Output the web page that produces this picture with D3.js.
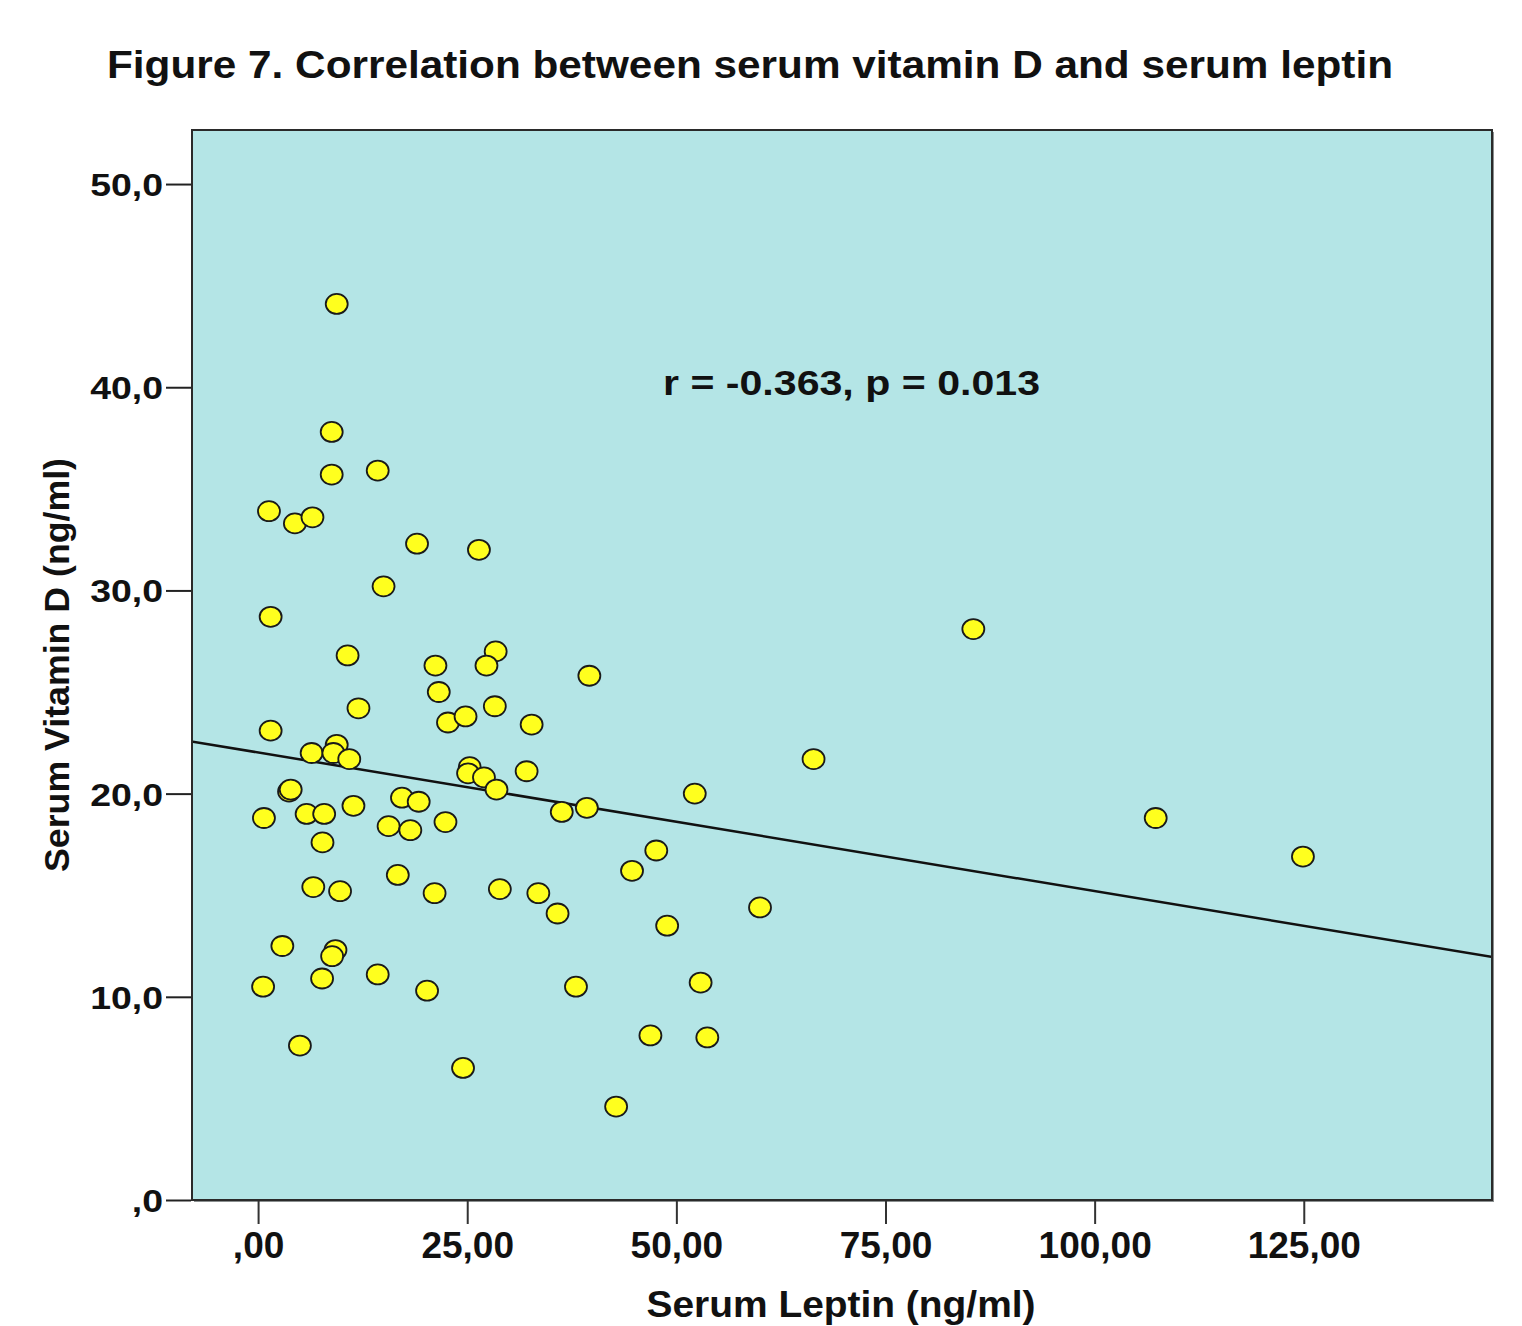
<!DOCTYPE html>
<html>
<head>
<meta charset="utf-8">
<script src="https://cdn.jsdelivr.net/npm/d3@7"></script>
<style>
  html, body { margin: 0; padding: 0; background: #ffffff; }
  svg { display: block; }
  text { font-family: "Liberation Sans", Arial, sans-serif; font-weight: bold; fill: #111; }
</style>
</head>
<body>
<svg id="chart" width="1522" height="1326"></svg>
<script>
// ---- Data ----
const leptin = [
  9.4, 8.8, 8.8, 14.3, 1.3, 4.4, 6.5, 19.0, 26.4, 15.0, 1.5,
  10.7, 21.2, 28.4, 27.3, 39.6, 21.6, 12.0, 28.3, 22.7, 24.8, 32.7, 1.5,
  6.4, 9.4, 9.0, 10.9, 25.3, 25.1, 27.0, 28.5, 32.1, 36.3, 39.3,
  3.7, 3.9, 0.7, 5.8, 7.9, 11.4, 17.2, 19.2, 15.6, 18.2, 22.4, 7.7,
  16.7, 6.6, 9.8, 21.1, 28.9, 33.5, 35.8,
  2.9, 9.25, 8.85, 0.6, 7.65, 14.3, 20.2, 38.0, 5.0, 24.5, 46.9, 42.8, 48.9,
  85.5, 66.4, 52.2, 47.6, 44.7, 60.0, 52.9, 53.7, 107.3, 124.9
];
const vitaminD = [
  44.1, 37.8, 35.7, 35.9, 33.9, 33.3, 33.6, 32.3, 32.0, 30.2, 28.7,
  26.8, 26.3, 27.0, 26.3, 25.8, 25.0, 24.2, 24.3, 23.5, 23.8, 23.4, 23.1,
  22.0, 22.4, 22.0, 21.7, 21.3, 21.0, 20.8, 20.2, 21.1, 19.1, 19.3,
  20.1, 20.2, 18.8, 19.0, 19.0, 19.4, 19.8, 19.6, 18.4, 18.2, 18.6, 17.6,
  16.0, 15.4, 15.2, 15.1, 15.3, 15.1, 14.1,
  12.5, 12.3, 12.0, 10.5, 10.9, 11.1, 10.3, 10.5, 7.6, 6.5, 8.1, 4.6, 13.5,
  28.1, 21.7, 20.0, 17.2, 16.2, 14.4, 10.7, 8.0, 18.8, 16.9
];
const xTickValues = [0, 25, 50, 75, 100, 125];
const xTickLabels = [",00", "25,00", "50,00", "75,00", "100,00", "125,00"];
const yTickValues = [0, 10, 20, 30, 40, 50];
const yTickLabels = [",0", "10,0", "20,0", "30,0", "40,0", "50,0"];
const titleText = "Figure 7. Correlation between serum vitamin D and serum leptin";
const xTitle = "Serum Leptin (ng/ml)";
const yTitle = "Serum Vitamin D (ng/ml)";
const annotation = "r = -0.363, p = 0.013";

// ---- Layout ----
const svg = d3.select("#chart");
const plot = { left: 192, right: 1492, top: 130, bottom: 1200 };

const x = d3.scaleLinear().domain([-7.9, 147.5]).range([plot.left, plot.right]);
const y = d3.scaleLinear().domain([0, 52.66]).range([plot.bottom, plot.top]);

// Title
svg.append("text")
  .attr("x", 107).attr("y", 78)
  .attr("font-size", 39)
  .attr("textLength", 1286).attr("lengthAdjust", "spacingAndGlyphs")
  .text(titleText);

// Plot shadow + background
svg.append("rect")
  .attr("x", plot.left + 2).attr("y", plot.top + 2)
  .attr("width", plot.right - plot.left).attr("height", plot.bottom - plot.top)
  .attr("fill", "#8a8f8f");
svg.append("rect")
  .attr("x", plot.left).attr("y", plot.top)
  .attr("width", plot.right - plot.left).attr("height", plot.bottom - plot.top)
  .attr("fill", "#b4e5e6")
  .attr("stroke", "#2a2a2a").attr("stroke-width", 2);

// Clip for line
svg.append("clipPath").attr("id", "clip")
  .append("rect")
  .attr("x", plot.left + 1).attr("y", plot.top + 1)
  .attr("width", plot.right - plot.left - 2).attr("height", plot.bottom - plot.top - 2);

// Regression line (least squares on the data)
const n = leptin.length;
const mx = d3.mean(leptin), my = d3.mean(vitaminD);
let sxy = 0, sxx = 0;
for (let i = 0; i < n; i++) { sxy += (leptin[i] - mx) * (vitaminD[i] - my); sxx += (leptin[i] - mx) ** 2; }
const slope = sxy / sxx, intercept = my - slope * mx;
const [x0, x1] = x.domain();
svg.append("line")
  .attr("clip-path", "url(#clip)")
  .attr("x1", x(x0)).attr("y1", y(intercept + slope * x0))
  .attr("x2", x(x1)).attr("y2", y(intercept + slope * x1))
  .attr("stroke", "#111").attr("stroke-width", 2.5);

// Points
svg.append("g").selectAll("ellipse")
  .data(leptin.map((d, i) => ({ lx: d, vd: vitaminD[i] })))
  .join("ellipse")
  .attr("cx", d => x(d.lx)).attr("cy", d => y(d.vd))
  .attr("rx", 11).attr("ry", 10)
  .attr("fill", "#ffff1e")
  .attr("stroke", "#1a1a1a").attr("stroke-width", 1.8);

// Annotation
svg.append("text")
  .attr("x", 663).attr("y", 395)
  .attr("font-size", 35)
  .attr("textLength", 377).attr("lengthAdjust", "spacingAndGlyphs")
  .text(annotation);

// X axis
const xAxis = d3.axisBottom(x)
  .tickValues(xTickValues)
  .tickFormat((d, i) => xTickLabels[i])
  .tickSize(23).tickSizeOuter(0).tickPadding(8);
const gx = svg.append("g").attr("transform", `translate(0,${plot.bottom + 1})`).call(xAxis);
gx.select(".domain").remove();
gx.selectAll(".tick line").attr("stroke", "#333").attr("stroke-width", 2);
gx.selectAll(".tick text")
  .attr("font-size", 37).attr("fill", "#111")
  .attr("font-family", "Liberation Sans, Arial, sans-serif").attr("font-weight", "bold");

// Y axis
const yAxis = d3.axisLeft(y)
  .tickValues(yTickValues)
  .tickFormat((d, i) => yTickLabels[i])
  .tickSize(25).tickSizeOuter(0).tickPadding(3);
const gy = svg.append("g").attr("transform", `translate(${plot.left - 1},0)`).call(yAxis);
gy.select(".domain").remove();
gy.selectAll(".tick line").attr("stroke", "#222").attr("stroke-width", 2);
gy.selectAll(".tick text")
  .attr("font-size", 32).attr("fill", "#111")
  .attr("font-family", "Liberation Sans, Arial, sans-serif").attr("font-weight", "bold")
  .attr("dy", "0.36em")
  .each(function() {
    const t = d3.select(this);
    const w = this.getComputedTextLength();
    t.attr("textLength", w * 1.17).attr("lengthAdjust", "spacingAndGlyphs");
  });

// Axis titles
svg.append("text")
  .attr("x", 841).attr("y", 1317)
  .attr("text-anchor", "middle")
  .attr("font-size", 37)
  .attr("textLength", 389).attr("lengthAdjust", "spacingAndGlyphs")
  .text(xTitle);

svg.append("text")
  .attr("transform", "translate(69,665) rotate(-90)")
  .attr("text-anchor", "middle")
  .attr("font-size", 35)
  .attr("textLength", 414).attr("lengthAdjust", "spacingAndGlyphs")
  .text(yTitle);
</script>
</body>
</html>
